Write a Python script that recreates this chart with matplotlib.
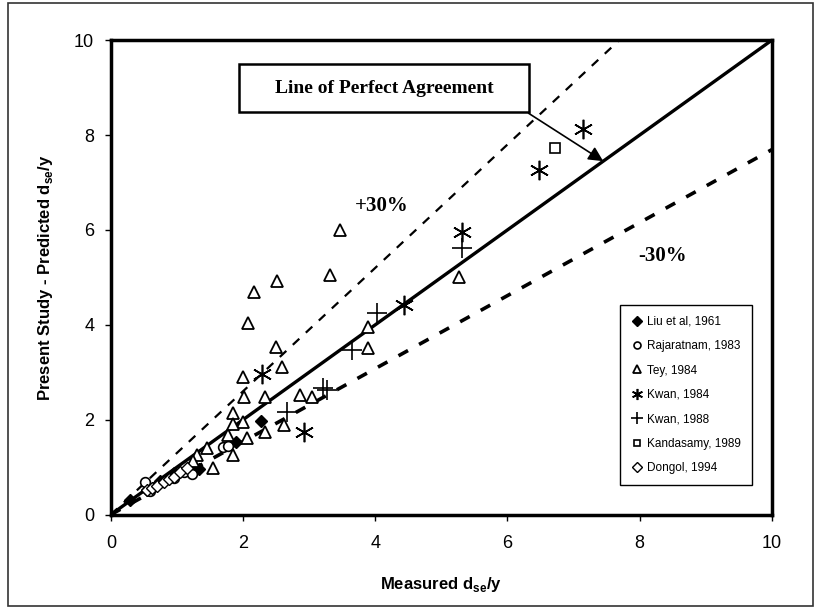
import matplotlib.pyplot as plt
from matplotlib.patches import Rectangle
import numpy as np

# data (measured vs predicted dse/y)
liu_x = [0.29, 0.55, 0.75, 0.95, 1.2, 1.33, 1.9, 2.27]
liu_y = [0.30, 0.52, 0.70, 0.88, 1.00, 0.97, 1.54, 1.98]

raj_x = [0.52, 0.6, 0.95, 1.1, 1.23, 1.7, 1.78]
raj_y = [0.68, 0.50, 0.78, 0.90, 0.85, 1.42, 1.45]

tey_x = [3.47, 3.32, 2.52, 2.17, 2.08, 2.5, 2.59, 2.0, 2.02, 2.33, 2.86, 3.04,
         1.85, 2.0, 2.33, 2.62, 2.06, 1.77, 3.89, 3.89, 5.27, 1.85, 1.45, 1.55,
         1.3, 1.25, 1.85]
tey_y = [6.0, 5.05, 4.93, 4.7, 4.04, 3.54, 3.12, 2.9, 2.48, 2.48, 2.53, 2.48,
         2.15, 1.96, 1.75, 1.89, 1.62, 1.68, 3.96, 3.52, 5.01, 1.26, 1.41, 0.99,
         1.25, 1.12, 1.9]

kwan84_x = [2.29, 2.92, 4.44, 5.32, 6.48, 7.15]
kwan84_y = [2.97, 1.75, 4.42, 5.96, 7.26, 8.13]

kwan88_x = [2.67, 3.21, 3.27, 3.65, 4.03, 5.32]
kwan88_y = [2.17, 2.67, 2.63, 3.47, 4.25, 5.62]

kand_x = [6.72]
kand_y = [7.73]

dongol_x = [0.55, 0.62, 0.7, 0.8, 0.88, 0.95, 1.05, 1.15]
dongol_y = [0.52, 0.56, 0.60, 0.68, 0.75, 0.80, 0.90, 0.98]

plt.rcParams['font.family'] = ['Liberation Sans', 'DejaVu Sans']

fig = plt.figure(figsize=(8.15, 6.09), dpi=100)
ax = fig.add_axes([0.136, 0.155, 0.811, 0.779])

# outer frame round the whole figure
fig.patches.append(Rectangle((8 / 815, 3 / 609), 805 / 815, 603 / 609,
                             transform=fig.transFigure, fill=False,
                             edgecolor='#333333', lw=1.2))

# agreement lines
xl = np.array([0, 10])
ax.plot(xl, xl, color='black', lw=2.4, zorder=2)
ax.plot(xl, xl * 1.3, color='black', lw=1.6, dashes=(4, 4), zorder=2)
ax.plot(xl, xl / 1.3, color='black', lw=2.6, dashes=(3, 3.5), zorder=2)

mk = dict(linestyle='none', color='black', zorder=3)
ax.plot(liu_x, liu_y, marker='D', ms=6, mfc='black', label='Liu et al, 1961', **mk)
ax.plot(raj_x, raj_y, marker='o', ms=7, mfc='white', mew=1.2, label='Rajaratnam, 1983', **mk)
ax.plot(tey_x, tey_y, marker='^', ms=9, mfc='white', mew=1.3, label='Tey, 1984', **mk)
ax.plot(kwan84_x, kwan84_y, marker=(6, 2, 0), ms=14, mew=1.2, label='Kwan, 1984', **mk)
ax.plot(kwan88_x, kwan88_y, marker='+', ms=14, mew=1.2, label='Kwan, 1988', **mk)
ax.plot(kand_x, kand_y, marker='s', ms=7, mfc='white', mew=1.2, label='Kandasamy, 1989', **mk)
ax.plot(dongol_x, dongol_y, marker='D', ms=6, mfc='white', mew=1.0, label='Dongol, 1994', **mk)

ax.set_xlim(0, 10)
ax.set_ylim(0, 10)
ax.set_xticks([0, 2, 4, 6, 8, 10])
ax.set_yticks([0, 2, 4, 6, 8, 10])
ax.tick_params(direction='out', length=4, width=1, labelsize=13)
ax.tick_params(axis='x', pad=11)
ax.tick_params(axis='y', pad=8)
for s in ax.spines.values():
    s.set_linewidth(2.5)

ax.set_xlabel('Measured d$_{\\mathregular{se}}$/y', fontsize=12, fontweight='bold', labelpad=16)
ax.set_ylabel('Present Study - Predicted d$_{\\mathregular{se}}$/y', fontsize=12,
              fontweight='bold', labelpad=14)

# text labels
ax.text(4.1, 6.5, '+30%', family='Liberation Serif', fontsize=15, fontweight='bold',
        ha='center', va='center')
ax.text(8.35, 5.45, '-30%', family='Liberation Serif', fontsize=15, fontweight='bold',
        ha='center', va='center')

ax.add_patch(Rectangle((1.94, 8.48), 4.38, 1.01, fill=True, facecolor='white',
                       edgecolor='black', lw=1.8, zorder=4))
ax.text(4.13, 8.99, 'Line of Perfect Agreement', family='Liberation Serif',
        fontsize=14, fontweight='bold', ha='center', va='center', zorder=5)
ax.annotate('', xy=(7.45, 7.45), xytext=(6.32, 8.46),
            arrowprops=dict(arrowstyle='-|>', color='black', lw=1.2,
                            mutation_scale=22, shrinkA=0, shrinkB=0), zorder=5)

leg = ax.legend(loc='lower right', bbox_to_anchor=(0.97, 0.063), fontsize=8.5,
                frameon=True, fancybox=False, edgecolor='black', framealpha=1,
                handlelength=1.0, handletextpad=0.4, labelspacing=1.05,
                borderpad=0.9, borderaxespad=0)
leg.get_frame().set_linewidth(1.0)
for h, size in zip(leg.legend_handles, [5, 5, 6, 8, 8, 5, 5]):
    h.set_markersize(size)

fig.savefig('out.png', dpi=100)
